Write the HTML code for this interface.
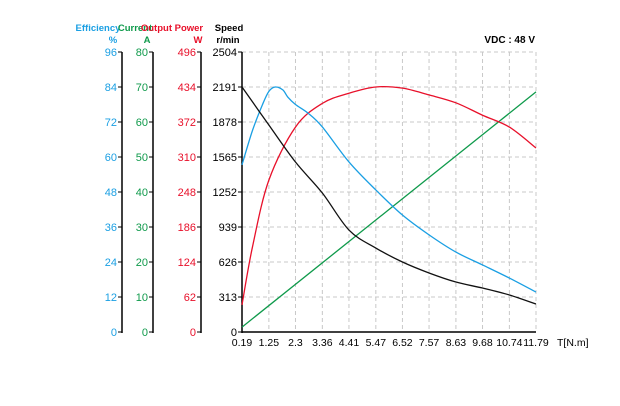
<!DOCTYPE html>
<html><head><meta charset="utf-8"><style>
body{margin:0;background:#fff}
svg{display:block;font-family:"Liberation Sans",sans-serif}
</style></head><body>
<svg id="c" width="620" height="406" viewBox="0 0 620 406"></svg>
<script>
const torque=[0.19,1.25,2.3,3.36,4.41,5.47,6.52,7.57,8.63,9.68,10.74,11.79];
const xTicks=["0.19","1.25","2.3","3.36","4.41","5.47","6.52","7.57","8.63","9.68","10.74","11.79"];
const speedTicks=[0,313,626,939,1252,1565,1878,2191,2504];
const effTicks=[0,12,24,36,48,60,72,84,96];
const curTicks=[0,10,20,30,40,50,60,70,80];
const powTicks=[0,62,124,186,248,310,372,434,496];
const speedT=[0.19,1.25,2.3,3.36,4.41,5.47,6.52,7.57,8.63,9.68,10.74,11.79];
const speedV=[2191,1851,1520,1243,912,751,626,528,447,393,331,250];
const effT=[0.19,0.6,1.0,1.25,1.5,1.8,2.0,2.3,2.8,3.36,4.41,5.47,6.52,7.57,8.63,9.68,10.74,11.79];
const effV=[57.3,69,78,82.5,84,83,80.5,78,75,70.3,58.3,48.7,40.1,33.3,27.4,23,18.5,13.7];
const powT=[0.19,0.6,1.25,2.3,3.36,4.41,5.47,6.52,7.57,8.63,9.68,10.74,11.79];
const powV=[48,150,269,363,405,423,434,432,420,406,384,363,326];
const curT=[0.19,11.79];
const curV=[1.4,68.6];
const X0=242,X1=536,Y0=332,Y1=52;
const sx=t=>X0+(t-0.19)/(11.79-0.19)*(X1-X0);
const sy=(v,max)=>Y0-v/max*(Y0-Y1);
const svg=document.getElementById('c');
const NS='http://www.w3.org/2000/svg';
function mk(tag,attrs,parent){const e=document.createElementNS(NS,tag);for(const k in attrs)e.setAttribute(k,attrs[k]);(parent||svg).appendChild(e);return e;}
function txt(x,y,s,fill,anchor,size,weight){const e=mk('text',{x:x,y:y,fill:fill,'text-anchor':anchor,'font-size':size||11});if(weight)e.setAttribute('font-weight',weight);e.textContent=s;return e;}
// grid
for(let i=0;i<torque.length;i++){const x=sx(torque[i]);const l=mk('line',{x1:x,y1:Y1,x2:x,y2:Y0,stroke:'#c8c8c8','stroke-dasharray':'4,3'});

}
for(let i=1;i<speedTicks.length;i++){const y=sy(speedTicks[i],2504);const l=mk('line',{x1:X0,y1:y,x2:X1,y2:y,stroke:'#c8c8c8','stroke-dasharray':'4,3'});

}
// x axis
const xa=mk('line',{x1:X0,y1:Y0,x2:X1,y2:Y0,stroke:'#000','stroke-width':1.5});


for(let i=0;i<xTicks.length;i++){const t=txt(sx(torque[i]),346,xTicks[i],'#000','middle',10.5);

}
const xt=txt(557,346,'T[N.m]','#000','start',10.5);


// y axes
const axes=[
 {x:122,ticks:effTicks,max:96,color:'#1a9fe3',name:'efficiency',t1:'Efficiency',t2:'%',tx1:98,tx2:113},
 {x:153,ticks:curTicks,max:80,color:'#0f9a4b',name:'current',t1:'Current',t2:'A',tx1:135,tx2:147},
 {x:201,ticks:powTicks,max:496,color:'#e8102a',name:'power',t1:'Output Power',t2:'W',tx1:172,tx2:198},
 {x:242,ticks:speedTicks,max:2504,color:'#000',name:'speed',t1:'Speed',t2:'r/min',tx1:229,tx2:228}
];
axes.forEach(a=>{
 const l=mk('line',{x1:a.x,y1:Y1,x2:a.x,y2:Y0+1,stroke:'#000','stroke-width':1.5});
 
 
 a.ticks.forEach(v=>{const y=sy(v,a.max);mk('line',{x1:a.x-4,y1:y,x2:a.x,y2:y,stroke:'#000'});
  const t=txt(a.x-5,y+4,String(v),a.color,'end',11);
  
  });
 const t1=txt(a.tx1,31,a.t1,a.color,'middle',9.5,'bold');
 
 
 const t2=txt(a.tx2,43,a.t2,a.color,'middle',9.5,'bold');
 
 
});
const v=txt(535,43,'VDC : 48 V','#000','end',10,'bold');


// curves
function path(T,V,max){const p=T.map((t,i)=>[sx(t),sy(V[i],max)]);let d='M'+p[0][0]+','+p[0][1];
 for(let i=0;i<p.length-1;i++){const a=p[i-1]||p[i],b=p[i],c=p[i+1],e=p[i+2]||c;
  d+=' C'+(b[0]+(c[0]-a[0])/6)+','+(b[1]+(c[1]-a[1])/6)+' '+(c[0]-(e[0]-b[0])/6)+','+(c[1]-(e[1]-b[1])/6)+' '+c[0]+','+c[1];}
 return d;}
const s1=mk('path',{d:path(curT,curV,80),fill:'none',stroke:'#0f9a4b','stroke-width':1.3});


const s2=mk('path',{d:path(powT,powV,496),fill:'none',stroke:'#e8102a','stroke-width':1.3});


const s3=mk('path',{d:path(effT,effV,96),fill:'none',stroke:'#1a9fe3','stroke-width':1.3});


const s4=mk('path',{d:path(speedT,speedV,2504),fill:'none',stroke:'#111','stroke-width':1.3});


</script>
</body></html>
